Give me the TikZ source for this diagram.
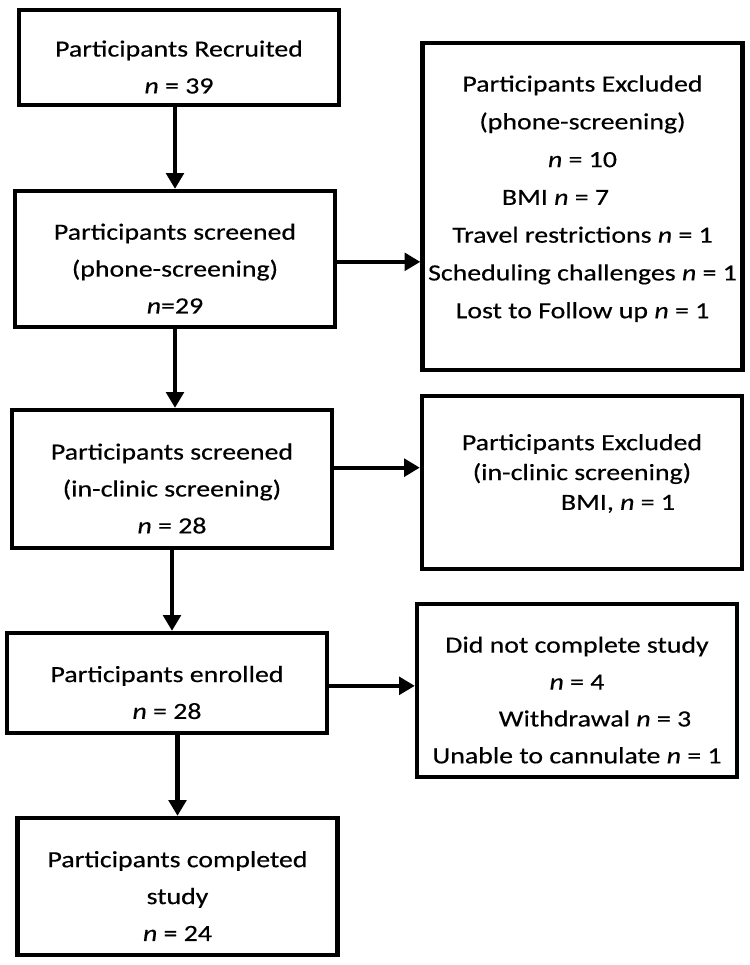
\documentclass[tikz,border=0pt]{standalone}
\usepackage{fontspec}
\setmainfont{Carlito}[FakeStretch=1.2, FakeBold=0.4]
\usetikzlibrary{arrows.meta}
\newcommand{\topgap}{\rule{0pt}{20pt}}

\begin{document}
\begin{tikzpicture}[
      x=0.02cm, y=-0.02cm, >={Triangle[length=9pt,width=10pt]},
      box/.style={draw, line width=2.5pt, inner sep=0pt, minimum width=6.4cm,
        align=center, font=\fontsize{13.2}{21}\selectfont},
      up/.style={execute at end node={\rule[-#1]{0pt}{0pt}}},
      flow/.style={->, line width=2.3pt},
      ]
      \useasboundingbox (0,0) rectangle (750,965);

      % main column
      \node[box, minimum height=1.9cm]  (rec)   at (179,57.5)  {\topgap Participants Recruited\\ \textit{n} = 39};
      \node[box, minimum height=2.72cm] (phone) at (175,259)   {\topgap Participants screened\\ (phone-screening)\\ \textit{n}=29};
      \node[box, minimum height=2.76cm] (clinic) at (172,479)  {\topgap Participants screened\\ (in-clinic screening)\\ \textit{n} = 28};
      \node[box, minimum height=2cm]    (enrol) at (167,683)   {\topgap Participants enrolled\\ \textit{n} = 28};
      \node[box, minimum height=2.74cm] (done)  at (177.5,886.5) {\topgap Participants completed\\ study\\ \textit{n} = 24};

      % exclusions
      \node[box, up=11pt, minimum height=6.54cm, font=\fontsize{13.2}{21.5}\selectfont] (exphone) at (582.5,206.5)
        {Participants Excluded\\ (phone-screening)\\ \textit{n} = 10\\ BMI \textit{n} = 7\kern1.08cm\\
         Travel restrictions \textit{n} = 1\\ Scheduling challenges \textit{n} = 1\\ Lost to Follow up \textit{n} = 1};
      \node[box, up=12pt, minimum height=3.46cm, font=\fontsize{13.2}{17}\selectfont] (exclinic) at (582,482.5)
        {Participants Excluded\\ (in-clinic screening)\\ \hspace*{1.44cm}BMI, \textit{n} = 1};
      \node[box, minimum height=3.46cm] (drop) at (577,690.5)
        {\topgap Did not complete study\\ \textit{n} = 4\\ \hspace*{0.72cm}Withdrawal \textit{n} = 3\\ Unable to cannulate \textit{n} = 1};

      \path[flow] (phone.north |- rec.south) edge (phone.north);
      \path[flow] (phone.south) edge (phone.south |- clinic.north);
      \path[flow] (clinic.south) edge (clinic.south |- enrol.north);
      \path[flow] (done.north |- enrol.south) edge (done.north);

      \path[flow] (phone.-1.4) edge (phone.-1.4 -| exphone.west);
      \path[flow] (clinic.4) edge (clinic.4 -| exclinic.west);
      \path[flow] (enrol.-1.4) edge (enrol.-1.4 -| drop.west);
\end{tikzpicture}
\end{document}
